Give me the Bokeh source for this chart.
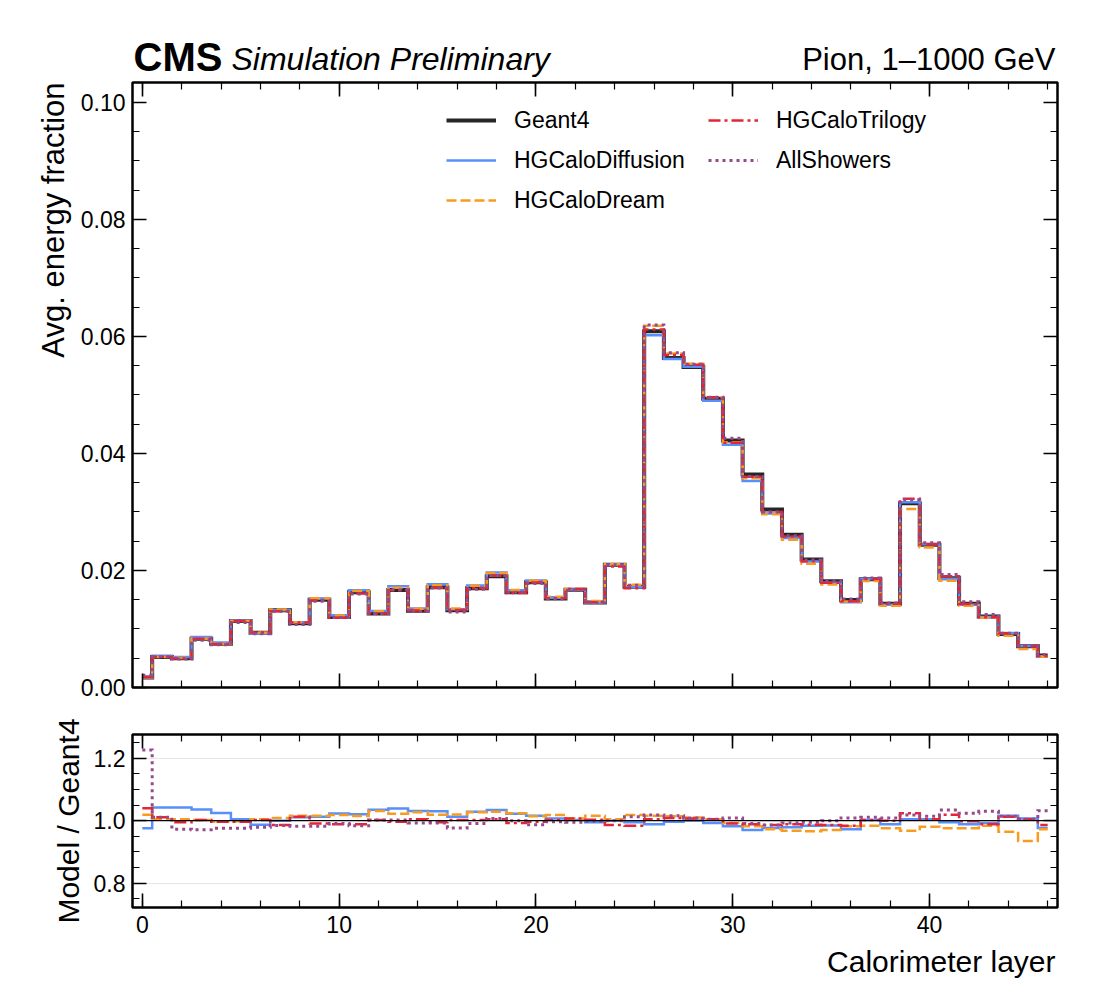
from math import pi
from bokeh.plotting import figure
from bokeh.layouts import column, row
from bokeh.core.properties import value
from bokeh.models import (Range1d, LinearAxis, SingleIntervalTicker, Legend,
                          LegendItem, Span, NumeralTickFormatter, CustomJSTickFormatter)
from bokeh.embed import file_html
from bokeh.resources import INLINE

# ---------------- data ----------------
layers = list(range(47))

geant4 = [0.0017, 0.0052, 0.0050, 0.00833, 0.00747, 0.01138, 0.00937, 0.01322, 0.01098, 0.0150,
          0.01207, 0.01626, 0.01264, 0.01667, 0.0131, 0.01713, 0.01322, 0.01695, 0.01902, 0.01626,
          0.01799, 0.01523, 0.01672, 0.01454, 0.02098, 0.01724, 0.06087, 0.0563, 0.05477, 0.04935,
          0.04223, 0.0364, 0.03043, 0.0261, 0.02188, 0.01817, 0.01497, 0.0185, 0.0143, 0.0315,
          0.02438, 0.01868, 0.0143, 0.01213, 0.00916, 0.00705, 0.00546]

ratio_diffusion = [0.976, 1.042, 1.042, 1.036, 1.025, 1.005, 0.987, 1.000, 1.011, 1.013,
                   1.023, 1.021, 1.035, 1.039, 1.031, 1.030, 1.013, 1.029, 1.034, 1.022,
                   1.016, 1.007, 1.002, 0.995, 1.000, 0.995, 0.989, 0.997, 1.001, 0.993,
                   0.982, 0.970, 0.977, 0.979, 0.984, 0.985, 0.973, 1.002, 0.989, 1.005,
                   1.005, 0.995, 0.989, 0.993, 1.016, 1.007, 0.977]

ratio_dream = [1.019, 1.005, 1.005, 1.002, 0.997, 0.998, 1.005, 1.009, 1.016, 1.016,
               1.018, 1.015, 1.031, 1.022, 1.027, 1.019, 1.020, 1.027, 1.029, 1.024,
               1.014, 1.018, 1.007, 1.016, 1.005, 1.018, 1.016, 1.014, 1.010, 1.005,
               0.993, 0.982, 0.973, 0.968, 0.966, 0.970, 0.982, 0.984, 0.976, 0.968,
               0.981, 0.976, 0.976, 0.984, 0.965, 0.935, 0.973]

ratio_trilogy = [1.040, 1.011, 0.995, 1.002, 0.997, 0.997, 1.002, 0.986, 1.013, 0.991,
                 0.989, 0.989, 1.002, 0.997, 1.005, 0.995, 1.002, 1.002, 1.005, 0.993,
                 0.997, 1.002, 1.007, 1.003, 0.986, 0.984, 1.005, 1.009, 1.007, 1.005,
                 0.991, 0.989, 0.986, 0.989, 0.987, 0.986, 0.984, 1.002, 1.000, 1.024,
                 1.005, 1.019, 0.998, 0.989, 1.013, 1.005, 0.986]

ratio_allshowers = [1.226, 1.011, 0.973, 0.971, 0.976, 0.976, 0.979, 0.985, 0.982, 0.982,
                    0.991, 0.984, 1.002, 1.002, 0.993, 0.993, 0.977, 0.991, 1.007, 1.000,
                    0.987, 0.997, 0.995, 0.998, 1.000, 1.013, 1.018, 1.016, 1.009, 1.005,
                    1.009, 0.991, 0.986, 0.993, 0.995, 1.000, 1.009, 1.011, 1.009, 1.018,
                    1.014, 1.034, 1.024, 1.030, 1.014, 1.005, 1.032]

model_names = ["HGCaloDiffusion", "HGCaloDream", "HGCaloTrilogy", "AllShowers"]
model_ratios = [ratio_diffusion, ratio_dream, ratio_trilogy, ratio_allshowers]

# ---------------- layout constants ----------------
FONT = "Liberation Sans"
XMIN, XMAX = -0.5, 46.5
YMAX = 0.1034
RMIN, RMAX = 0.7226, 1.2755
W = 1090
FRAME_L, FRAME_R = 132, 1057
BORDER_R = W - FRAME_R
STRIP_W = 72
HEADER_H = 80
MAIN_TOP, MAIN_FH, MAIN_BOT = 2, 605, 21
MAIN_H = MAIN_TOP + MAIN_FH + MAIN_BOT
RAT_TOP, RAT_FH, RAT_BOT = 26, 173, 36
RAT_H = RAT_TOP + RAT_FH + RAT_BOT
FOOTER_H = 45
MID = 0.3465  # distance baseline -> middle of the text box, in em

styles = {
    "HGCaloDiffusion": dict(line_color="#5790fc", line_width=2.5),
    "HGCaloDream": dict(line_color="#f89c20", line_width=2.5, line_dash="10 4"),
    "HGCaloTrilogy": dict(line_color="#e42536", line_width=2.5, line_dash="12 4 3 4"),
    "AllShowers": dict(line_color="#964a8b", line_width=3, line_dash="3 4"),
}

blank_fmt = CustomJSTickFormatter(code="return '';")


def style_axis(ax, show_labels=True, standoff=7):
    ax.major_tick_in = 14
    ax.major_tick_out = 0
    ax.minor_tick_in = 7
    ax.minor_tick_out = 0
    ax.major_tick_line_width = 1.6
    ax.minor_tick_line_width = 1.2
    ax.major_tick_line_color = "black"
    ax.minor_tick_line_color = "black"
    ax.axis_line_color = None
    ax.major_label_text_font = FONT
    ax.major_label_text_color = "black"
    if show_labels:
        ax.major_label_standoff = standoff
        ax.major_label_text_font_size = "23px"
    else:
        ax.major_label_standoff = 0
        ax.major_label_text_font_size = "1px"
        ax.formatter = blank_fmt


def blank_fig(width, height, xr, yr, left=0, right=0):
    f = figure(width=width, height=height, x_range=xr, y_range=yr,
               output_backend="svg", toolbar_location=None, title=None,
               x_axis_type=None, y_axis_type=None,
               min_border_left=left, min_border_right=right, min_border_top=0, min_border_bottom=0)
    f.outline_line_color = None
    f.grid.visible = False
    return f


def text_at(fig, x, baseline, txt, size, align, style="normal"):
    fig.text(x=[x], y=[baseline - MID * size], text=[txt], text_font=value(FONT),
             text_font_style=value(style), text_font_size=value(f"{size}px"),
             text_color="black", text_align=align, text_baseline="middle")


# ---------------- header (texts above the main frame) ----------------
header = blank_fig(W, HEADER_H, Range1d(FRAME_L, FRAME_R), Range1d(HEADER_H, 0),
                   left=FRAME_L, right=BORDER_R)
text_at(header, 133, 70, "CMS", 40, "left", "bold")
text_at(header, 231, 70, "Simulation Preliminary", 32, "left", "italic")
text_at(header, 1055, 70, "Pion, 1\u20131000 GeV", 31, "right")

# ---------------- y-label strip (top-aligned label) ----------------
strip = blank_fig(STRIP_W, MAIN_H, Range1d(0, STRIP_W), Range1d(MAIN_H, 0))
strip.text(x=[70], y=[0], text=["Avg. energy fraction"], text_font=value(FONT),
           text_font_size=value("31px"), text_color="black", angle=pi / 2,
           text_align="right", text_baseline="bottom")

# ---------------- main panel ----------------
p = figure(width=W - STRIP_W, height=MAIN_H, x_range=Range1d(XMIN, XMAX), y_range=Range1d(0, YMAX),
           output_backend="svg", toolbar_location=None, title=None,
           min_border_left=FRAME_L - STRIP_W, min_border_right=BORDER_R,
           min_border_top=MAIN_TOP, min_border_bottom=MAIN_BOT)
p.outline_line_color = "black"
p.outline_line_width = 2.5
p.grid.visible = False

p.xaxis[0].ticker = SingleIntervalTicker(interval=10, num_minor_ticks=5)
p.yaxis[0].ticker = SingleIntervalTicker(interval=0.02, num_minor_ticks=4)
p.yaxis[0].formatter = NumeralTickFormatter(format="0.00")
style_axis(p.xaxis[0], show_labels=False)
style_axis(p.yaxis[0])
top_ax = LinearAxis(ticker=SingleIntervalTicker(interval=10, num_minor_ticks=5))
style_axis(top_ax, show_labels=False)
p.add_layout(top_ax, "above")
right_ax = LinearAxis(ticker=SingleIntervalTicker(interval=0.02, num_minor_ticks=4))
style_axis(right_ax, show_labels=False)
p.add_layout(right_ax, "right")

renderers = {}
renderers["Geant4"] = p.step(layers, geant4, mode="center", line_color="black",
                             line_alpha=0.85, line_width=4, line_join="miter")
for name, ratio in zip(model_names, model_ratios):
    vals = [g * r for g, r in zip(geant4, ratio)]
    renderers[name] = p.step(layers, vals, mode="center", line_join="miter", **styles[name])

ROW_H, ROW_GAP = 30, 10
leg_common = dict(orientation="vertical", glyph_width=50, glyph_height=ROW_H, label_height=ROW_H,
                  label_standoff=18, spacing=ROW_GAP, padding=0, margin=0,
                  border_line_color=None, background_fill_alpha=0,
                  label_text_font=FONT, label_text_font_size="23px",
                  label_text_color="black")
col1 = ["Geant4", "HGCaloDiffusion", "HGCaloDream"]
col2 = ["HGCaloTrilogy", "AllShowers"]


def leg_height(n):
    return n * ROW_H + (n - 1) * ROW_GAP


leg1 = Legend(items=[LegendItem(label=n, renderers=[renderers[n]]) for n in col1],
              location=(314, MAIN_FH - 23 - leg_height(len(col1))), **leg_common)
leg2 = Legend(items=[LegendItem(label=n, renderers=[renderers[n]]) for n in col2],
              location=(576, MAIN_FH - 23 - leg_height(len(col2))), **leg_common)
p.add_layout(leg1)
p.add_layout(leg2)

# ---------------- ratio panel ----------------
p2 = figure(width=W, height=RAT_H, x_range=p.x_range, y_range=Range1d(RMIN, RMAX),
            output_backend="svg", toolbar_location=None, title=None,
            min_border_left=FRAME_L, min_border_right=BORDER_R,
            min_border_top=RAT_TOP, min_border_bottom=RAT_BOT)
p2.outline_line_color = "black"
p2.outline_line_width = 2.5
p2.xgrid.visible = False
p2.ygrid.grid_line_color = "#e6e6e6"
p2.ygrid.grid_line_width = 1

p2.xaxis[0].ticker = SingleIntervalTicker(interval=10, num_minor_ticks=5)
p2.yaxis[0].ticker = SingleIntervalTicker(interval=0.2, num_minor_ticks=4)
p2.yaxis[0].formatter = NumeralTickFormatter(format="0.0")
style_axis(p2.xaxis[0], standoff=8)
style_axis(p2.yaxis[0])
p2.yaxis[0].axis_label = "Model / Geant4"
p2.yaxis[0].axis_label_text_font = FONT
p2.yaxis[0].axis_label_text_font_size = "30px"
p2.yaxis[0].axis_label_text_font_style = "normal"
p2.yaxis[0].axis_label_text_color = "black"
p2.yaxis[0].axis_label_standoff = 6
top2 = LinearAxis(ticker=SingleIntervalTicker(interval=10, num_minor_ticks=5))
style_axis(top2, show_labels=False)
p2.add_layout(top2, "above")
right2 = LinearAxis(ticker=SingleIntervalTicker(interval=0.2, num_minor_ticks=4))
style_axis(right2, show_labels=False)
p2.add_layout(right2, "right")

p2.add_layout(Span(location=1.0, dimension="width", line_color="black", line_width=1.2))
for name, ratio in zip(model_names, model_ratios):
    p2.step(layers, ratio, mode="center", line_join="miter", **styles[name])

# ---------------- footer (x-axis title, right-aligned) ----------------
footer = blank_fig(W, FOOTER_H, Range1d(FRAME_L, FRAME_R), Range1d(FOOTER_H, 0),
                   left=FRAME_L, right=BORDER_R)
text_at(footer, 1055, 971 - (MAIN_H + HEADER_H + RAT_H), "Calorimeter layer", 30, "right")

layout = column(header, row(strip, p, spacing=0), p2, footer, spacing=0)
open("out.html", "w").write(file_html(layout, INLINE))
